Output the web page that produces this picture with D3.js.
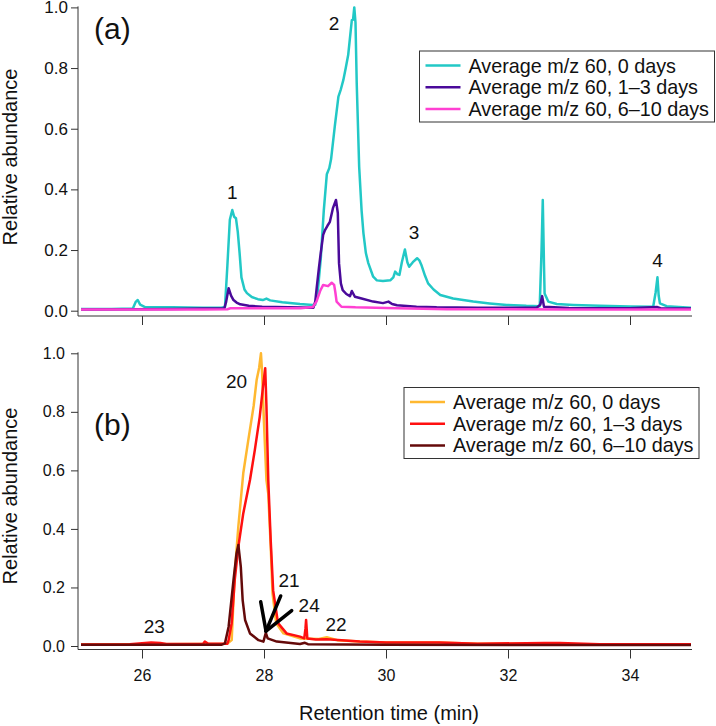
<!DOCTYPE html>
<html>
<head>
<meta charset="utf-8">
<script src="https://cdn.jsdelivr.net/npm/d3@7"></script>
<style>
  body { margin: 0; background: #fff; }
  svg { font-family: "Liberation Sans", Arial, sans-serif; }
</style>
</head>
<body>
<div id="chart"></div>
<script>
// retention time (min) / relative abundance
var cyan0days = [[25.0,0.006],[25.5,0.006],[25.85,0.007],[25.9,0.03],[25.93,0.035],[25.97,0.02],[26.05,0.012],[26.5,0.011],[27.0,0.010],[27.3,0.010],[27.36,0.012],[27.4,0.15],[27.44,0.30],[27.48,0.332],[27.51,0.31],[27.54,0.305],[27.57,0.26],[27.6,0.19],[27.63,0.11],[27.68,0.07],[27.72,0.058],[27.8,0.045],[27.9,0.038],[27.98,0.035],[28.04,0.04],[28.1,0.034],[28.3,0.028],[28.59,0.022],[28.8,0.019],[28.84,0.02],[28.88,0.06],[28.93,0.17],[28.98,0.33],[29.03,0.45],[29.07,0.47],[29.1,0.50],[29.16,0.607],[29.22,0.706],[29.26,0.73],[29.30,0.76],[29.34,0.80],[29.38,0.843],[29.42,0.92],[29.44,0.958],[29.46,0.96],[29.48,1.0],[29.5,0.95],[29.52,0.75],[29.56,0.475],[29.6,0.33],[29.63,0.256],[29.67,0.19],[29.71,0.157],[29.79,0.112],[29.85,0.10],[29.95,0.098],[30.07,0.10],[30.12,0.11],[30.15,0.129],[30.19,0.12],[30.22,0.118],[30.26,0.16],[30.31,0.202],[30.35,0.16],[30.38,0.145],[30.44,0.16],[30.51,0.173],[30.55,0.165],[30.58,0.151],[30.64,0.115],[30.69,0.09],[30.78,0.07],[30.89,0.052],[31.1,0.04],[31.43,0.03],[31.7,0.024],[31.98,0.019],[32.3,0.016],[32.52,0.015],[32.55,0.2],[32.57,0.365],[32.59,0.15],[32.6,0.057],[32.66,0.03],[32.8,0.022],[33.07,0.019],[33.5,0.016],[34.0,0.014],[34.38,0.013],[34.42,0.06],[34.45,0.11],[34.47,0.05],[34.49,0.024],[34.6,0.015],[35.0,0.01]];

var purple1to3days = [[25.0,0.004],[25.9,0.005],[26.5,0.006],[27.0,0.007],[27.35,0.008],[27.38,0.03],[27.42,0.074],[27.46,0.05],[27.5,0.035],[27.55,0.027],[27.61,0.021],[27.75,0.016],[27.97,0.013],[28.4,0.011],[28.81,0.010],[28.84,0.03],[28.86,0.068],[28.9,0.14],[28.93,0.19],[28.97,0.25],[29.0,0.266],[29.04,0.28],[29.08,0.293],[29.13,0.338],[29.18,0.365],[29.21,0.322],[29.23,0.156],[29.26,0.09],[29.29,0.068],[29.35,0.055],[29.41,0.048],[29.44,0.065],[29.49,0.046],[29.6,0.04],[29.79,0.03],[29.95,0.025],[30.04,0.03],[30.1,0.022],[30.18,0.018],[30.5,0.013],[30.83,0.011],[31.5,0.010],[32.47,0.010],[32.53,0.02],[32.56,0.048],[32.59,0.013],[33.0,0.009],[34.0,0.008],[34.44,0.012],[34.5,0.008],[35.0,0.007]];

var magenta6to10days = [[25.0,0.004],[26.0,0.004],[27.0,0.004],[27.4,0.005],[27.45,0.008],[28.0,0.008],[28.6,0.008],[28.8,0.012],[28.86,0.03],[28.92,0.065],[28.97,0.085],[29.05,0.081],[29.11,0.092],[29.15,0.085],[29.17,0.06],[29.19,0.03],[29.27,0.013],[29.5,0.011],[30.0,0.009],[31.0,0.005],[33.0,0.004],[35.0,0.004]];

var orange0days = [[25.0,0.005],[26.0,0.006],[27.0,0.007],[27.4,0.008],[27.47,0.02],[27.52,0.248],[27.58,0.41],[27.62,0.50],[27.66,0.59],[27.74,0.70],[27.83,0.82],[27.88,0.91],[27.92,0.95],[27.95,1.0],[27.97,0.93],[28.0,0.76],[28.04,0.567],[28.07,0.52],[28.11,0.34],[28.14,0.18],[28.2,0.078],[28.32,0.043],[28.59,0.026],[28.9,0.024],[29.03,0.03],[29.2,0.02],[29.57,0.015],[30.0,0.012],[30.87,0.012],[31.5,0.008],[32.6,0.008],[33.0,0.006],[35.0,0.006]];

var red1to3days = [[25.0,0.005],[25.8,0.006],[26.05,0.01],[26.15,0.012],[26.3,0.01],[26.4,0.007],[27.0,0.007],[27.03,0.015],[27.08,0.008],[27.4,0.008],[27.42,0.02],[27.47,0.078],[27.52,0.225],[27.58,0.34],[27.66,0.453],[27.77,0.567],[27.85,0.67],[27.93,0.783],[27.99,0.897],[28.02,0.949],[28.04,0.82],[28.07,0.567],[28.11,0.36],[28.15,0.19],[28.23,0.078],[28.37,0.043],[28.59,0.032],[28.66,0.026],[28.68,0.06],[28.69,0.089],[28.71,0.026],[28.85,0.022],[29.03,0.023],[29.57,0.015],[30.0,0.012],[30.87,0.012],[31.5,0.008],[32.6,0.01],[32.85,0.01],[33.5,0.006],[35.0,0.006]];

var darkred6to10days = [[25.0,0.004],[27.3,0.004],[27.36,0.009],[27.42,0.066],[27.5,0.225],[27.55,0.317],[27.58,0.345],[27.62,0.27],[27.65,0.157],[27.69,0.089],[27.77,0.043],[27.91,0.02],[27.99,0.015],[28.03,0.045],[28.06,0.026],[28.21,0.015],[28.59,0.007],[28.67,0.011],[28.72,0.006],[30.0,0.004],[35.0,0.003]];

var legendNames = ["Average m/z 60, 0 days", "Average m/z 60, 1\u20133 days", "Average m/z 60, 6\u201310 days"];
var xTicks = [26, 28, 30, 32, 34];
var yTicks = [0, 0.2, 0.4, 0.6, 0.8, 1.0];

// peak labels: [text, time, abundance at text baseline]
var peaksA = [["1", 27.48, 0.368], ["2", 29.15, 0.925], ["3", 30.46, 0.238], ["4", 34.45, 0.144]];
var peaksB = [["20", 27.55, 0.881], ["21", 28.41, 0.2], ["24", 28.74, 0.116], ["22", 29.18, 0.051], ["23", 26.2, 0.043]];
// arrow strokes pointing at peak 21 (time, abundance)
var arrowB = [[[28.274, 0.171], [28.033, 0.051]], [[28.454, 0.121], [28.033, 0.051]], [[27.946, 0.151], [28.033, 0.051]]];

var width = 716, height = 726;

var svg = d3.select("#chart").append("svg")
    .attr("width", width)
    .attr("height", height);

var x = d3.scaleLinear().domain([25, 35]).range([81, 691]);

function drawPanel(opt) {
    var y = d3.scaleLinear().domain([0, 1]).range([opt.y0, opt.y1]);
    var g = svg.append("g");

    var line = d3.line()
        .x(function (d) { return x(d[0]); })
        .y(function (d) { return y(d[1]); });

    opt.series.forEach(function (s, i) {
        g.append("path")
            .datum(s)
            .attr("d", line)
            .attr("fill", "none")
            .attr("stroke", opt.colors[i])
            .attr("stroke-width", 2.5)
            .attr("stroke-linejoin", "round");
    });

    // y axis
    var yAxis = g.append("g")
        .attr("transform", "translate(78,0)")
        .call(d3.axisLeft(y).tickValues(yTicks).tickFormat(d3.format(".1f"))
            .tickSize(7).tickPadding(opt.yPad).tickSizeOuter(0));
    yAxis.select(".domain").remove();
    yAxis.selectAll("line").attr("stroke", "#333");
    yAxis.selectAll("text").attr("font-size", opt.tickFont).attr("fill", "#111");
    g.append("line")
        .attr("x1", 78).attr("x2", 78)
        .attr("y1", y(1) - 1).attr("y2", opt.axisY)
        .attr("stroke", "#333");

    // x axis
    var xAxis = g.append("g")
        .attr("transform", "translate(0," + opt.axisY + ")")
        .call(d3.axisBottom(x).tickValues(xTicks)
            .tickFormat(opt.xLabels ? d3.format("d") : "")
            .tickSize(9).tickPadding(11).tickSizeOuter(0));
    xAxis.select(".domain").remove();
    xAxis.selectAll("line").attr("stroke", "#333");
    xAxis.selectAll("text").attr("font-size", 16).attr("fill", "#111");
    g.append("line")
        .attr("x1", 78).attr("x2", 692)
        .attr("y1", opt.axisY).attr("y2", opt.axisY)
        .attr("stroke", "#333");

    // y title
    g.append("text")
        .attr("transform", "translate(17," + opt.titleY + ") rotate(-90)")
        .attr("text-anchor", "middle")
        .attr("font-size", 20)
        .attr("fill", "#111")
        .text("Relative abundance");

    // panel tag
    g.append("text")
        .attr("x", 94).attr("y", opt.tagY)
        .attr("font-size", 30)
        .attr("fill", "#111")
        .text(opt.tag);

    // peak numbers
    g.selectAll(".peak")
        .data(opt.peaks)
        .enter().append("text")
        .attr("class", "peak")
        .attr("x", function (d) { return x(d[1]); })
        .attr("y", function (d) { return y(d[2]); })
        .attr("text-anchor", "middle")
        .attr("font-size", 19)
        .attr("fill", "#111")
        .text(function (d) { return d[0]; });

    if (opt.arrow) {
        g.selectAll(".arrow")
            .data(opt.arrow)
            .enter().append("line")
            .attr("x1", function (d) { return x(d[0][0]); })
            .attr("y1", function (d) { return y(d[0][1]); })
            .attr("x2", function (d) { return x(d[1][0]); })
            .attr("y2", function (d) { return y(d[1][1]); })
            .attr("stroke", "#000")
            .attr("stroke-width", 3.5)
            .attr("stroke-linecap", "round");
    }

    // legend
    var lg = g.append("g").attr("transform", "translate(" + opt.legend[0] + "," + opt.legend[1] + ")");
    lg.append("rect")
        .attr("x", 0).attr("y", 0)
        .attr("width", 295).attr("height", 71)
        .attr("fill", "#fff")
        .attr("stroke", "#333");
    legendNames.forEach(function (name, i) {
        var ry = 14.5 + i * 21.7;
        lg.append("line")
            .attr("x1", 6).attr("x2", 41)
            .attr("y1", ry).attr("y2", ry)
            .attr("stroke", opt.colors[i])
            .attr("stroke-width", 2.5);
        lg.append("text")
            .attr("x", 49).attr("y", ry + 7)
            .attr("font-size", 19.8)
            .attr("fill", "#111")
            .text(name);
    });
}

drawPanel({
    y0: 310.7, y1: 7.4, axisY: 316, yPad: 3, tickFont: 17,
    series: [cyan0days, purple1to3days, magenta6to10days],
    colors: ["#22c8c6", "#4a0a9a", "#ff40d2"],
    xLabels: false, titleY: 157, tag: "(a)", tagY: 39,
    peaks: peaksA, legend: [419.5, 51]
});

drawPanel({
    y0: 646, y1: 353.3, axisY: 649.5, yPad: 6, tickFont: 16,
    series: [orange0days, red1to3days, darkred6to10days],
    colors: ["#ffb830", "#ff1010", "#640a0a"],
    xLabels: true, titleY: 496, tag: "(b)", tagY: 435,
    peaks: peaksB, arrow: arrowB, legend: [404, 387.5]
});

// shared x title
svg.append("text")
    .attr("x", 389).attr("y", 720)
    .attr("text-anchor", "middle")
    .attr("font-size", 20)
    .attr("fill", "#111")
    .text("Retention time (min)");
</script>
</body>
</html>
